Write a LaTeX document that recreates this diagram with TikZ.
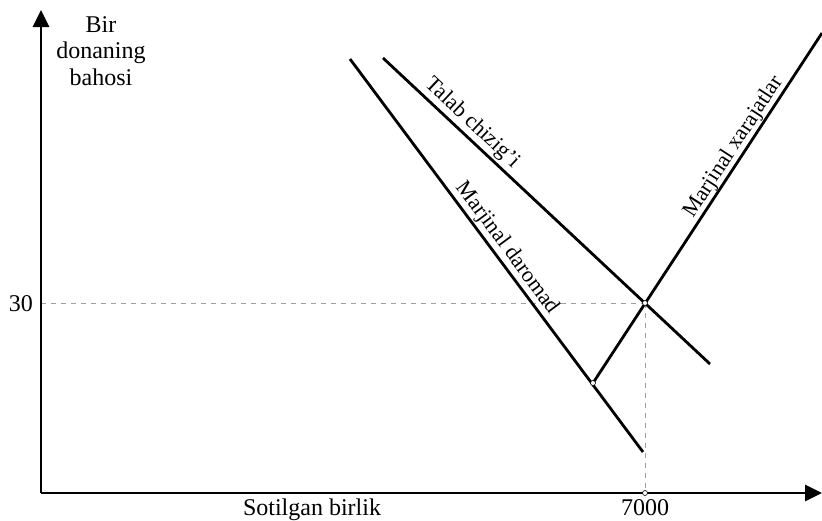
\documentclass[tikz,border=0pt]{standalone}
\usepackage{fontspec}
\setmainfont{Liberation Serif}
\usetikzlibrary{arrows.meta}
\begin{document}
\begin{tikzpicture}[x=1pt,y=-1pt,
  axis/.style={line width=2.8pt,-{Triangle[length=17pt,width=16pt]}},
  curve/.style={line width=2.8pt},
  guide/.style={gray!75,line width=0.7pt,dash pattern=on 5pt off 5pt},
  lbl/.style={font=\fontsize{24}{26.5}\selectfont,inner sep=0pt},
  rlbl/.style={font=\fontsize{22}{26}\selectfont,inner sep=0pt},
  dot/.style={circle,draw=black,fill=white,line width=0.6pt,inner sep=0pt,minimum size=5pt}
]
\useasboundingbox (0,0) rectangle (822,520);
% key points
\coordinate (O) at (41,493);
\coordinate (ytip) at (41,10);
\coordinate (xtip) at (822,493);
\coordinate (y30) at (41,303);
\coordinate (x7000) at (645,493);
\coordinate (dA) at (383,58);
\coordinate (dB) at (710,364);
\coordinate (mrA) at (350,59);
\coordinate (mrB) at (643,452);
\coordinate (mcTop) at (822,33);
% guides
\draw[guide] (y30) -- (645,303) coordinate (E);
\draw[guide] (E) -- (x7000);
% axes
\draw[axis] (O) -- (ytip);
\draw[axis] (O) -- (xtip);
% curves
\draw[curve] (dA) -- (dB);
\draw[curve] (mrA) -- (mrB);
\coordinate (F) at (593,383);
\draw[curve] (F) -- (mcTop);
% points
\node[dot] (pE) at (E) {};
\node[dot] (pF) at (F) {};
\node[dot] (p7000) at (x7000) {};
% labels
\node[lbl,align=center,anchor=north] (ylab) at (101,16) {Bir\\donaning\\bahosi};
\node[lbl,anchor=base east] (l30) at (33,311) {30};
\node[lbl,anchor=base] (xlab) at (312,515) {Sotilgan birlik};
\node[lbl,anchor=base] (l7000) at (645,515) {7000};
\node[rlbl,rotate=-43.2] (tlab) at (472,123) {Talab chizig'i};
\node[rlbl,rotate=-53.4] (mrlab) at (507,248) {Marjinal daromad};
\node[rlbl,rotate=57] (mclab) at (734,147) {Marjinal xarajatlar};
\end{tikzpicture}
\end{document}
